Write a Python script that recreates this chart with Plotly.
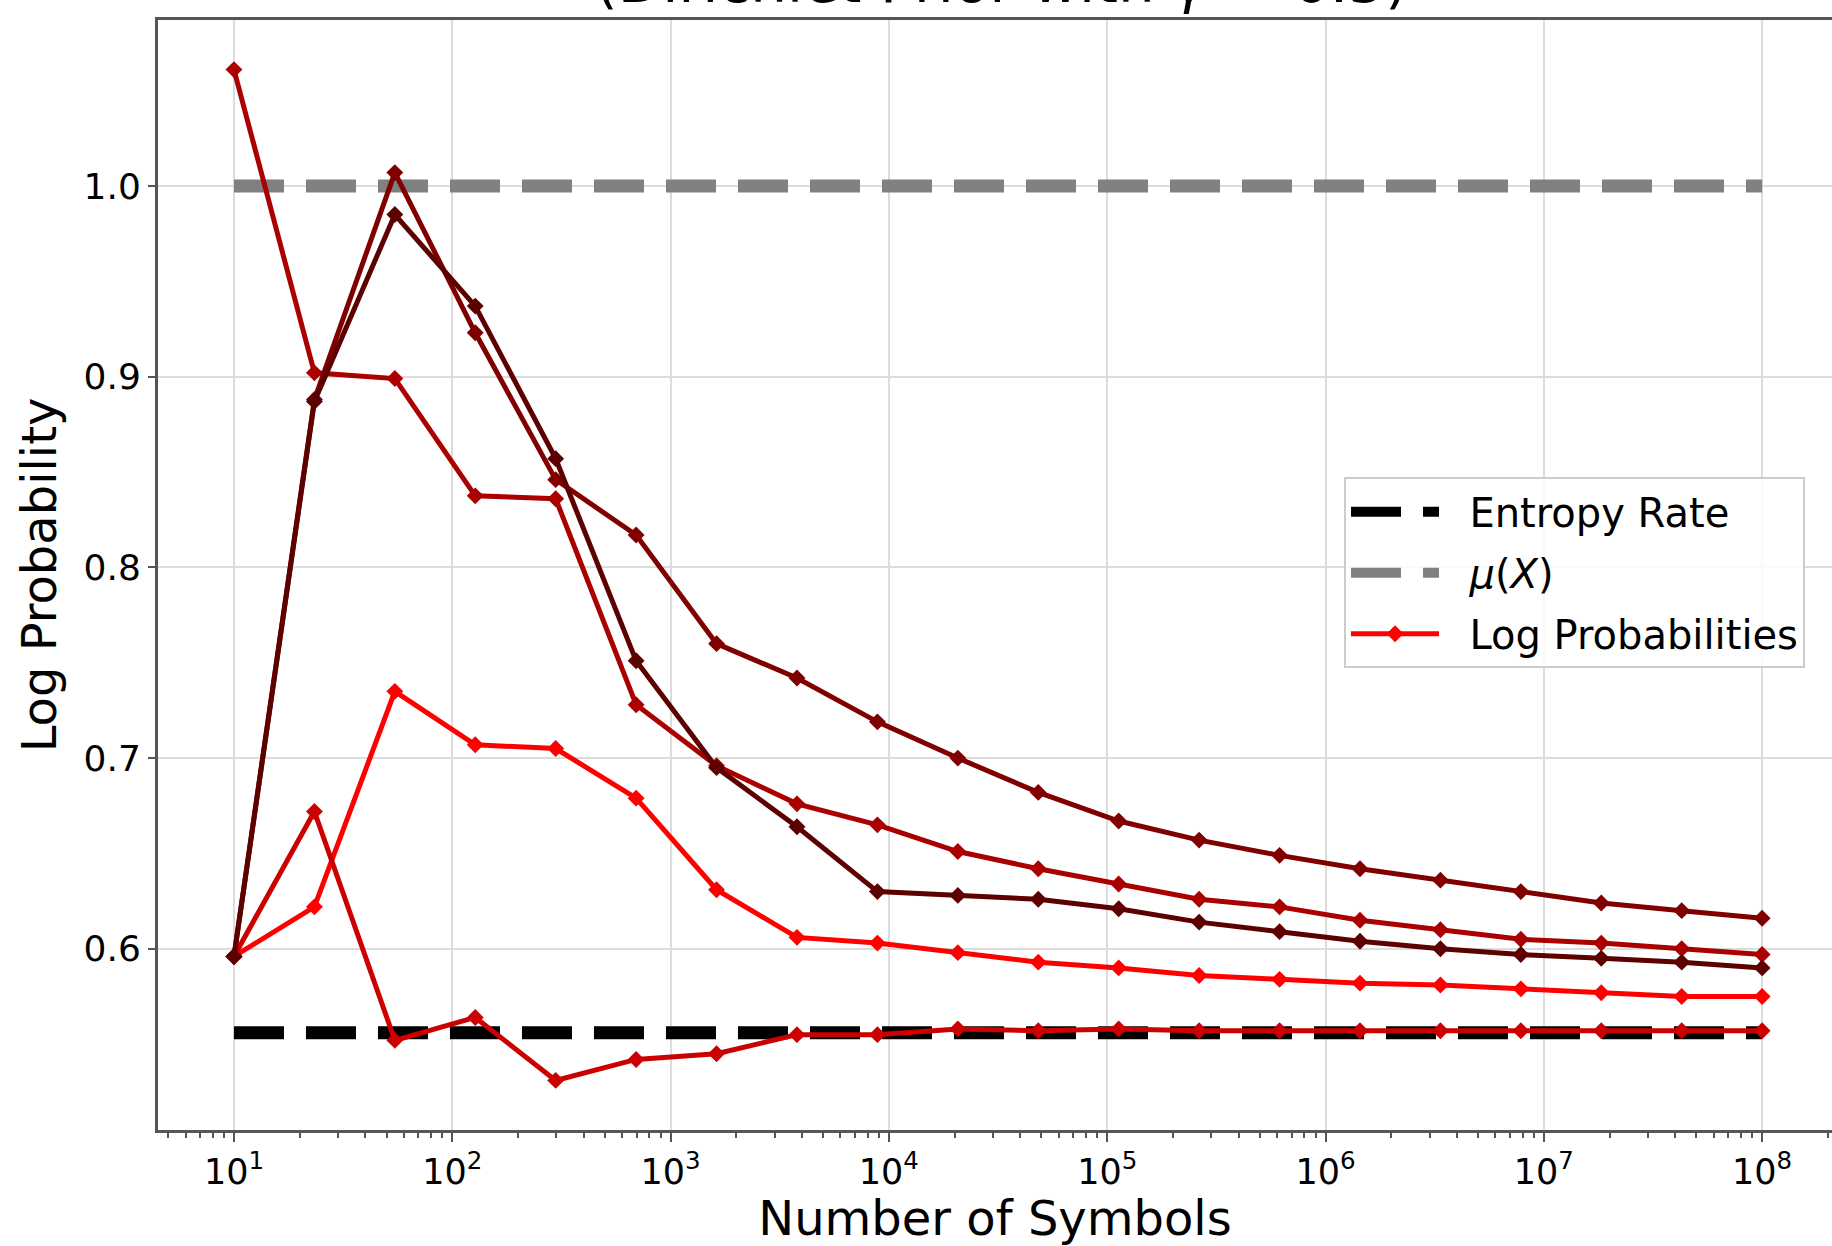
import plotly.graph_objects as go

# x positions (number of symbols)
n_symbols = [10, 23.36, 54.56, 127.4, 297.6, 695.2, 1623.8, 3792.7, 8858.7,
             20691, 48329, 112884, 263665, 615848, 1438450, 3359818,
             7847600, 18329807, 42813324, 100000000]

entropy_rate = 0.556
mu_x = 1.0

series_a = [0.596, 0.622, 0.735, 0.707, 0.705, 0.679, 0.631, 0.606, 0.603, 0.598,
            0.593, 0.590, 0.586, 0.584, 0.582, 0.581, 0.579, 0.577, 0.575, 0.575]
series_b = [0.596, 0.672, 0.552, 0.564, 0.531, 0.542, 0.545, 0.555, 0.555, 0.558,
            0.557, 0.558, 0.557, 0.557, 0.557, 0.557, 0.557, 0.557, 0.557, 0.557]
series_c = [1.061, 0.902, 0.899, 0.8375, 0.836, 0.728, 0.696, 0.676, 0.665, 0.651,
            0.642, 0.634, 0.626, 0.622, 0.615, 0.610, 0.605, 0.603, 0.600, 0.597]
series_d = [0.596, 0.888, 1.007, 0.923, 0.846, 0.817, 0.760, 0.742, 0.719, 0.700,
            0.682, 0.667, 0.657, 0.649, 0.642, 0.636, 0.630, 0.624, 0.620, 0.616]
series_e = [0.596, 0.887, 0.985, 0.937, 0.857, 0.751, 0.695, 0.664, 0.630, 0.628,
            0.626, 0.621, 0.614, 0.609, 0.604, 0.600, 0.597, 0.595, 0.593, 0.590]

series_list = [series_a, series_b, series_c, series_d, series_e]
series_colors = ["#ff0000", "#cc0000", "#aa0000", "#800000", "#5c0000"]

x_tick_vals = [10, 100, 1000, 10000, 100000, 1000000, 10000000, 100000000]
x_tick_text = ["10<sup>1</sup>", "10<sup>2</sup>", "10<sup>3</sup>", "10<sup>4</sup>",
               "10<sup>5</sup>", "10<sup>6</sup>", "10<sup>7</sup>", "10<sup>8</sup>"]
y_tick_vals = [0.6, 0.7, 0.8, 0.9, 1.0]

FONT = "DejaVu Sans"
GAP = "\u00a0\u00a0"

fig = go.Figure()
x_ends = [n_symbols[0], n_symbols[-1]]
fig.add_trace(go.Scatter(x=x_ends, y=[entropy_rate, entropy_rate], mode="lines",
                         line=dict(color="black", width=13, dash="50px,22px"),
                         name=GAP + "Entropy Rate", legendgroup="g1"))
fig.add_trace(go.Scatter(x=x_ends, y=[mu_x, mu_x], mode="lines",
                         line=dict(color="#808080", width=13, dash="50px,22px"),
                         name=GAP + "<i>μ</i>(<i>X</i>)", legendgroup="g2"))
for i, (ys, col) in enumerate(zip(series_list, series_colors)):
    fig.add_trace(go.Scatter(x=n_symbols, y=ys, mode="lines+markers",
                             line=dict(color=col, width=5),
                             marker=dict(symbol="diamond", size=13, color=col),
                             name=GAP + "Log Probabilities", showlegend=(i == 0),
                             legendgroup="g3"))

fig.add_annotation(text="(Dirichlet Prior with <i>γ</i> = 0.5)", xref="paper", yref="paper",
                   x=0.504, y=1.034, xanchor="center", yanchor="middle", showarrow=False,
                   font=dict(family=FONT, size=58, color="black"))

fig.update_layout(
    width=1832, height=1246,
    margin=dict(l=158, r=0, t=20, b=116),
    paper_bgcolor="white", plot_bgcolor="white",
    font=dict(family=FONT, color="black"),
    legend=dict(x=0.7085, y=0.588, xanchor="left", yanchor="top",
                bgcolor="rgba(255,255,255,0.85)", bordercolor="#cccccc", borderwidth=2,
                font=dict(family=FONT, size=40, color="black"), itemwidth=88,
                tracegroupgap=6),
)
fig.update_xaxes(type="log", range=[0.652, 8.32], tickvals=x_tick_vals, ticktext=x_tick_text,
                 showgrid=True, gridcolor="#dcdcdc", gridwidth=2,
                 showline=True, linecolor="#555555", linewidth=3, mirror=True,
                 ticks="outside", ticklen=9, tickwidth=2, tickcolor="#555555",
                 tickfont=dict(family=FONT, size=35, color="black"),
                 minor=dict(ticks="outside", ticklen=5, tickwidth=1.5, tickcolor="#555555",
                            dtick="D1", showgrid=False),
                 title=dict(text="Number of Symbols", font=dict(family=FONT, size=48, color="black"),
                            standoff=2),
                 zeroline=False)
fig.update_yaxes(range=[0.505, 1.087], tickvals=y_tick_vals, tickformat=".1f",
                 showgrid=True, gridcolor="#dcdcdc", gridwidth=2,
                 showline=True, linecolor="#555555", linewidth=3, mirror=False,
                 ticks="outside", ticklen=7, tickwidth=2, tickcolor="#555555",
                 tickfont=dict(family=FONT, size=36, color="black"),
                 title=dict(text="Log Probability", font=dict(family=FONT, size=48, color="black"),
                            standoff=12),
                 zeroline=False)

fig.write_html("out.html")
